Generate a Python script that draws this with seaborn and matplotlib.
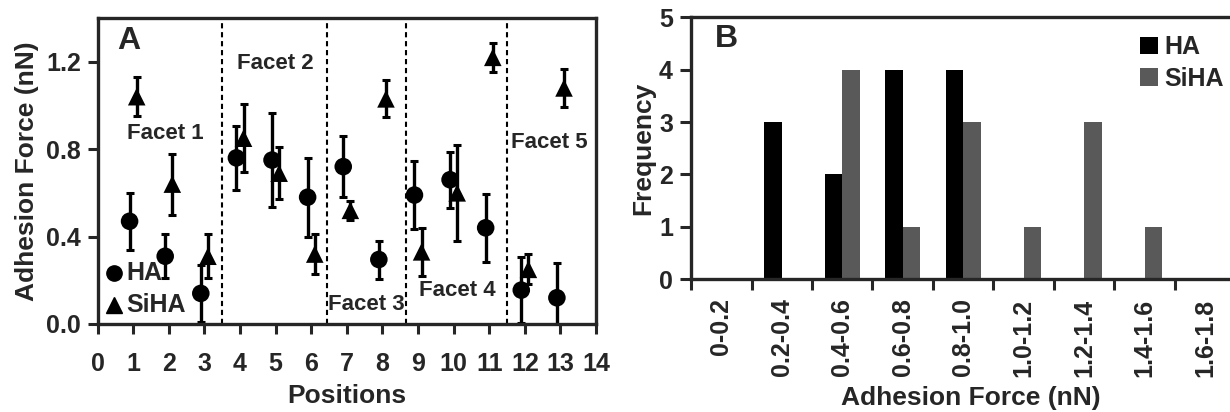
"""
Adhesion force: per-position values (A) and frequency histogram (B)
"""

import numpy as np
import pandas as pd
import matplotlib
matplotlib.use("Agg")
import matplotlib.pyplot as plt
from matplotlib.ticker import FixedLocator
import seaborn as sns

sns.set_style("ticks")
plt.rcParams['font.family'] = ['Liberation Sans', 'DejaVu Sans']
plt.rcParams['font.weight'] = 'bold'
plt.rcParams['axes.labelweight'] = 'bold'

# --- data: panel A ---
positions = np.arange(1, 14)
ha_mean = [0.47, 0.31, 0.14, 0.76, 0.75, 0.58, 0.72, 0.295, 0.59, 0.66, 0.44, 0.155, 0.12]
ha_err = [0.13, 0.10, 0.13, 0.145, 0.215, 0.18, 0.14, 0.087, 0.155, 0.127, 0.155, 0.15, 0.16]
siha_mean = [1.04, 0.64, 0.31, 0.85, 0.69, 0.32, 0.52, 1.03, 0.33, 0.60, 1.22, 0.25, 1.08]
siha_err = [0.09, 0.14, 0.10, 0.155, 0.12, 0.09, 0.045, 0.085, 0.11, 0.22, 0.065, 0.068, 0.085]
facet_bounds = [3.5, 6.45, 8.65, 11.5]
facet_names = ['Facet 1', 'Facet 2', 'Facet 3', 'Facet 4', 'Facet 5']
facet_text_pos = [(1.9, 0.87), (5.0, 1.19), (7.55, 0.09), (10.1, 0.155), (12.7, 0.83)]

# --- data: panel B ---
bins = ['0-0.2', '0.2-0.4', '0.4-0.6', '0.6-0.8', '0.8-1.0',
        '1.0-1.2', '1.2-1.4', '1.4-1.6', '1.6-1.8']
ha_freq = [0, 3, 2, 4, 4, 0, 0, 0, 0]
siha_freq = [0, 0, 4, 1, 3, 1, 3, 1, 0]

TICK_FS = 18
LABEL_FS = 19

fig = plt.figure(figsize=(12.3, 4.12), dpi=100)
axA = fig.add_axes([0.0793, 0.2136, 0.4053, 0.7427])
axB = fig.add_axes([0.5618, 0.3228, 0.4382, 0.635])

# ---------------- Panel A ----------------
off = 0.1
dfA = pd.DataFrame({
    'x': np.concatenate([positions - off, positions + off]),
    'force': ha_mean + siha_mean,
    'err': ha_err + siha_err,
    'sample': ['HA'] * len(positions) + ['SiHA'] * len(positions),
})

for name, grp in dfA.groupby('sample'):
    axA.errorbar(grp['x'], grp['force'], yerr=grp['err'], fmt='none',
                 ecolor='black', elinewidth=2.4, capsize=3.2, capthick=2.2, zorder=2)

sns.scatterplot(data=dfA, x='x', y='force', style='sample',
                markers={'HA': 'o', 'SiHA': '^'}, color='black',
                s=160, edgecolor='black', linewidth=0, ax=axA, zorder=3,
                legend=False)

for xb in facet_bounds:
    axA.axvline(xb, color='black', linestyle=(0, (2.5, 1.8)), linewidth=1.5, zorder=1)
for name, (tx, ty) in zip(facet_names, facet_text_pos):
    axA.text(tx, ty, name, ha='center', va='center', fontsize=16, fontweight='bold')

axA.text(0.04, 0.975, 'A', transform=axA.transAxes, ha='left', va='top',
         fontsize=23, fontweight='bold')

# legend for panel A
axA.plot([0.46], [0.232], marker='o', color='black', markersize=11, linestyle='none')
axA.text(0.82, 0.232, 'HA', va='center', ha='left', fontsize=18, fontweight='bold')
axA.plot([0.46], [0.085], marker='^', color='black', markersize=11, linestyle='none')
axA.text(0.82, 0.085, 'SiHA', va='center', ha='left', fontsize=18, fontweight='bold')

axA.set_xlim(0, 14)
axA.set_ylim(0, 1.4)
axA.set_xticks(range(0, 15))
axA.set_yticks([0.0, 0.4, 0.8, 1.2])
axA.set_yticklabels(['0.0', '0.4', '0.8', '1.2'])
axA.tick_params(axis='x', direction='out', length=7, width=2.2, labelsize=TICK_FS, pad=13)
axA.tick_params(axis='y', direction='out', length=7, width=2.2, labelsize=TICK_FS, pad=5)
for sp in axA.spines.values():
    sp.set_linewidth(2.4)
    sp.set_visible(True)
axA.set_xlabel('Positions', fontsize=LABEL_FS, labelpad=6)
axA.set_ylabel('Adhesion Force (nN)', fontsize=LABEL_FS, labelpad=5)

# ---------------- Panel B ----------------
dfB = pd.DataFrame({
    'bin': bins * 2,
    'count': ha_freq + siha_freq,
    'sample': ['HA'] * len(bins) + ['SiHA'] * len(bins),
})
sns.barplot(data=dfB, x='bin', y='count', hue='sample', order=bins,
            palette={'HA': 'black', 'SiHA': '#595959'}, saturation=1,
            width=0.58, linewidth=0, ax=axB, legend=True)

axB.set_xlim(-0.5, 8.41)
axB.set_ylim(0, 5)
axB.set_yticks(range(0, 6))
axB.xaxis.set_major_locator(FixedLocator(range(len(bins))))
axB.set_xticklabels(bins, rotation=90)
axB.xaxis.set_minor_locator(FixedLocator(np.arange(-0.5, len(bins), 1.0)))
axB.tick_params(axis='x', which='major', length=0, labelsize=TICK_FS, pad=14)
axB.tick_params(axis='x', which='minor', direction='out', length=8, width=2.2)
axB.tick_params(axis='y', direction='out', length=8, width=2.2, labelsize=TICK_FS, pad=5)
for sp in axB.spines.values():
    sp.set_linewidth(2.4)
axB.spines['right'].set_visible(False)
axB.spines['top'].set_visible(True)
axB.set_xlabel('Adhesion Force (nN)', fontsize=LABEL_FS)
axB.xaxis.set_label_coords(0.52, -0.41)
axB.set_ylabel('Frequency', fontsize=LABEL_FS, labelpad=3)

axB.text(0.045, 0.975, 'B', transform=axB.transAxes, ha='left', va='top',
         fontsize=23, fontweight='bold')

handles, labels = axB.get_legend_handles_labels()
axB.legend(handles, labels, loc='upper left', bbox_to_anchor=(0.815, 0.97),
           frameon=False, fontsize=18, handlelength=0.7, handleheight=0.7,
           handletextpad=0.25, labelspacing=0.3, borderaxespad=0)

fig.savefig('out.png', dpi=100)
